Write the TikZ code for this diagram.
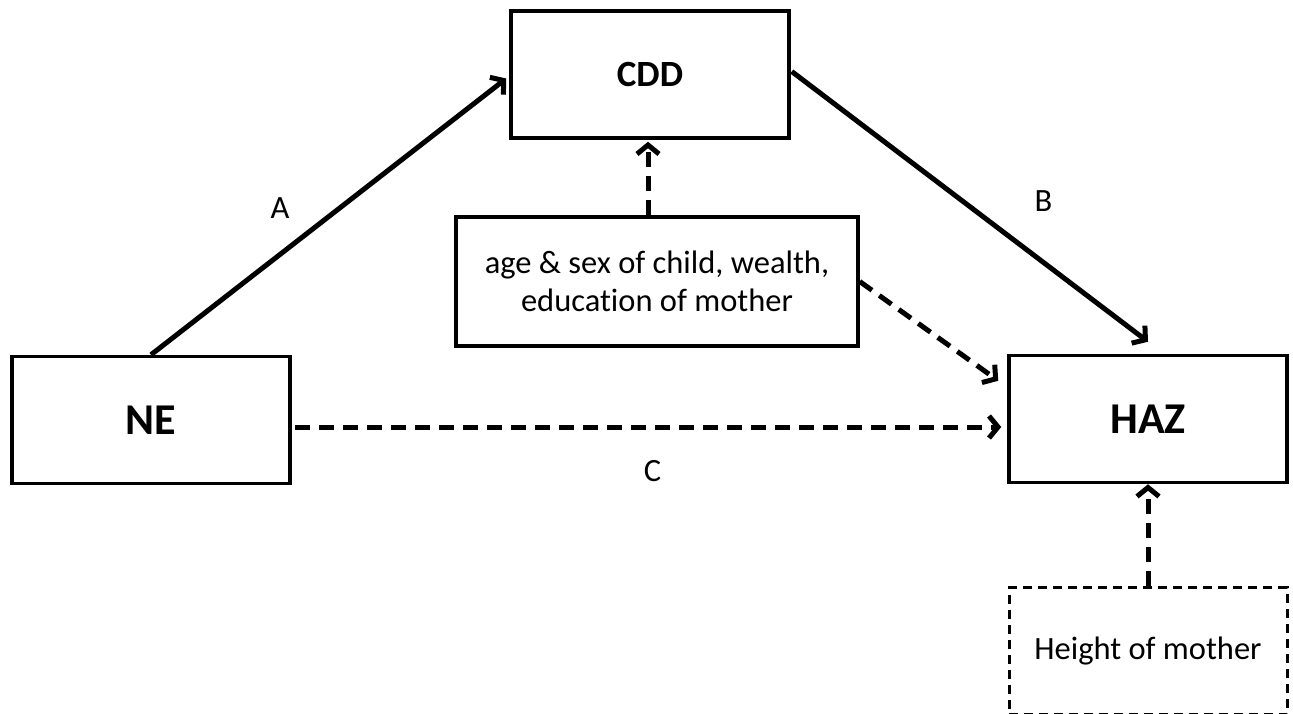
\documentclass[tikz,border=0pt]{standalone}
\usepackage{fontspec}
\setmainfont[Ligatures={NoCommon}]{Carlito}
\usetikzlibrary{arrows.meta,positioning}
\tikzset{>={Straight Barb[length=9pt,width=22pt]},
	box/.style={draw, line width=3.5pt, inner sep=0pt, align=center,
		minimum width=278pt, minimum height=127pt},
	dashbox/.style={box, line width=3pt, dash pattern=on 9pt off 6pt},
	link/.style={->, line width=5pt},
	dashlink/.style={link, dash pattern=on 15pt off 9pt}}
\tikzstyle{bigtext}=[font=\bfseries\fontsize{44}{50}\selectfont]

\begin{document}
\begin{tikzpicture}[x=1pt, y=-1pt, font=\fontsize{32.5}{38}\selectfont]
	\useasboundingbox (0,0) rectangle (1293,713);
	\node[box] (NE) at (151,420) {};
	\node[bigtext] at (NE) {NE};
	\node[box, bigtext] (HAZ) at (1148,419) {HAZ};
	\node[box, font=\bfseries\fontsize{37}{44}\selectfont] (CDD) at (650,74.5) {CDD};
	\node[box, minimum width=402pt, minimum height=129pt] (mid) at (657,281.5)
		{age \& sex of child, wealth,\\ education of mother};
	\node[dashbox, below=102pt of HAZ] (height) {Height of mother};
	% paths
	\draw[link] (NE.north) -- ([shift={(-3,4)}]CDD.west)
		node[pos=0.53, left=44pt] {A};
	\draw[link] ([shift={(1,-3)}]CDD.east) -- ([shift={(0,-12)}]HAZ.north)
		node[pos=0.48, right=66pt] {B};
	\draw[dashlink, shorten >=9pt] ([shift={(3,7)}]NE.east) -- ([shift={(3,7)}]NE.east -| HAZ.west)
		node[midway, below=28pt] {C};
	\draw[dashlink, shorten >=2pt] ([xshift=-2pt]CDD.south |- mid.north) -- ([xshift=-2pt]CDD.south);
	\draw[dashlink] (mid.east) -- ([shift={(-9,27)}]HAZ.north west);
	\draw[dashlink] (height.north) -- (HAZ.south);
\end{tikzpicture}
\end{document}
